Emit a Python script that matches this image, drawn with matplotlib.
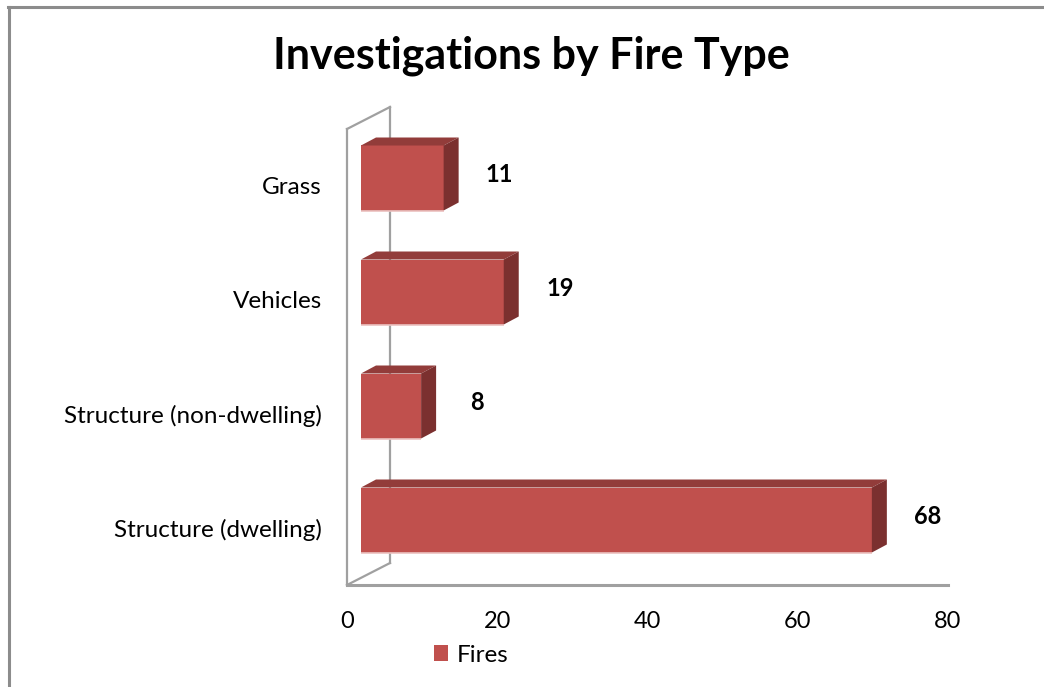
import matplotlib
matplotlib.use("Agg")
import matplotlib.pyplot as plt
from matplotlib.patches import Rectangle, Polygon, Patch
from matplotlib.lines import Line2D

# data
categories = ["Structure (dwelling)", "Structure (non-dwelling)", "Vehicles", "Grass"]
fires = [68, 8, 19, 11]
x_ticks = [0, 20, 40, 60, 80]

FRONT = "#C0504D"
TOP = "#923C3A"
SIDE = "#7B302F"
WALL = "#A0A0A0"

W, H = 1044, 687
fig = plt.figure(figsize=(W / 100, H / 100), dpi=100)
plt.rcParams["font.family"] = ["Lato", "DejaVu Sans"]

# axes box in pixels: left 347, right 948, bottom 585, top 129
ax = fig.add_axes([347 / W, (H - 585) / H, 601 / W, 456 / H])
ax.set_xlim(0, 80)
ax.set_ylim(-0.5, 3.5)
for s in ax.spines.values():
    s.set_visible(False)

# pixel -> data helpers for the fake 3d look
px_x = 80 / 601.0
px_y = 4 / 456.0
shift_x, shift_y = 14 * px_x, 8 * px_y      # front face offset
depth_x, depth_y = 15 * px_x, 8 * px_y      # bar depth
wall_x, wall_y = 43 * px_x, 22 * px_y       # wall depth
bar_h = 65 * px_y

# walls / floor
wall_kw = dict(color=WALL, lw=1.6, clip_on=False, zorder=1)
ax.plot([0, 0], [-0.5, 3.5], **wall_kw)
ax.plot([wall_x, wall_x], [-0.5 + wall_y, 3.5 + wall_y], **wall_kw)
ax.plot([0, wall_x], [3.5, 3.5 + wall_y], **wall_kw)
ax.plot([0, wall_x], [-0.5, -0.5 + wall_y], **wall_kw)
ax.plot([0, 80], [-0.5, -0.5], color=WALL, lw=2.2, clip_on=False, zorder=1)

for i, v in enumerate(fires):
    x0 = shift_x
    x1 = shift_x + v
    y0 = i + shift_y - bar_h / 2
    y1 = i + shift_y + bar_h / 2
    ax.add_patch(Rectangle((x0, y0), v, bar_h, facecolor=FRONT, edgecolor="none", zorder=3))
    ax.add_patch(Polygon([(x0, y1), (x1, y1), (x1 + depth_x, y1 + depth_y), (x0 + depth_x, y1 + depth_y)],
                         closed=True, facecolor=TOP, edgecolor="none", zorder=3))
    ax.add_patch(Polygon([(x1, y0), (x1 + depth_x, y0 + depth_y), (x1 + depth_x, y1 + depth_y), (x1, y1)],
                         closed=True, facecolor=SIDE, edgecolor="none", zorder=3))
    ax.plot([x0, x1], [y0, y0], color="#EBC1C0", lw=1.2, zorder=4, solid_capstyle="butt")
    ax.annotate(str(v), xy=(v, i), xytext=(70 * 0.72, 12 * 0.72), textcoords="offset points",
                ha="center", va="center", fontsize=17, fontweight="bold", color="black")

ax.set_xticks(x_ticks)
ax.set_xticklabels([str(t) for t in x_ticks], fontsize=17)
ax.set_yticks(range(len(categories)))
ax.set_yticklabels(categories, fontsize=17.5)
ax.tick_params(axis="both", length=0)
ax.tick_params(axis="x", pad=19)
ax.tick_params(axis="y", pad=18)

fig.text(531 / W, (H - 69) / H, "Investigations by Fire Type", ha="center", va="baseline",
         fontsize=31, fontweight="bold")

fig.legend(handles=[Patch(facecolor=FRONT, label="Fires")], loc="center",
           bbox_to_anchor=(471 / W, (H - 655) / H), frameon=False, fontsize=17.5,
           handlelength=0.6, handleheight=0.6, handletextpad=0.35)

# outer chart border (left and top only visible)
fig.add_artist(Line2D([9 / W, 9 / W], [0, (H - 7) / H], color="#8C8C8C", lw=2.2))
fig.add_artist(Line2D([8 / W, 1], [(H - 7) / H, (H - 7) / H], color="#8C8C8C", lw=2.2))

fig.savefig("out.png", dpi=100)
